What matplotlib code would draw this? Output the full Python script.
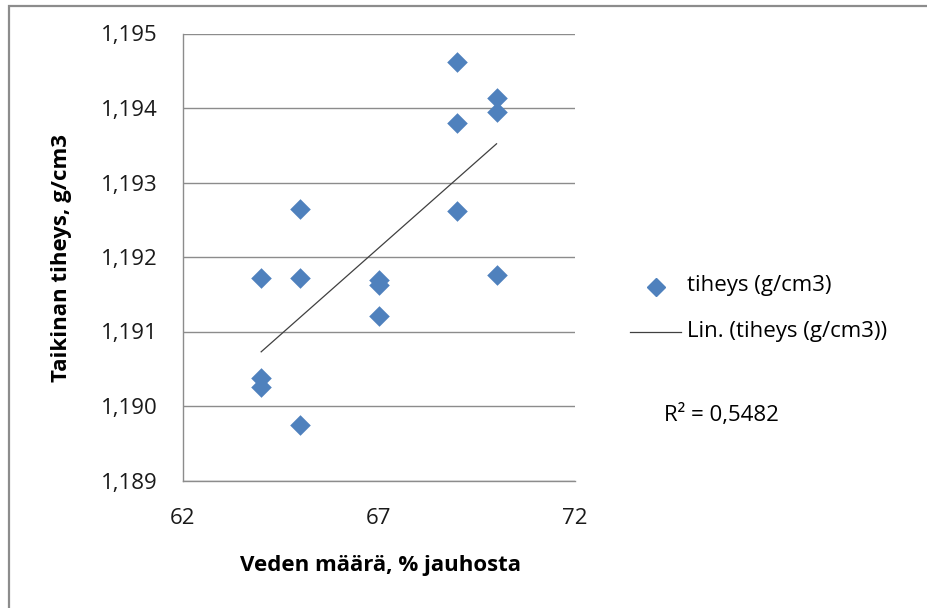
import numpy as np
import matplotlib
matplotlib.use("Agg")
import matplotlib.pyplot as plt
from matplotlib.lines import Line2D
from matplotlib.patches import Rectangle
from matplotlib.ticker import FuncFormatter

plt.rcParams['font.family'] = ['Open Sans', 'DejaVu Sans']

# water content (% of flour) and dough density (g/cm3)
water = [64, 64, 64, 65, 65, 65, 67, 67, 67, 69, 69, 69, 70, 70, 70]
density = [1.19172, 1.19037, 1.19026,
           1.19265, 1.19172, 1.18974,
           1.19169, 1.19162, 1.19121,
           1.19462, 1.19380, 1.19262,
           1.19413, 1.19394, 1.19176]
x_ticks = [62, 67, 72]
y_ticks = [1.189, 1.190, 1.191, 1.192, 1.193, 1.194, 1.195]
r2_label = "R² = 0,5482"

fig = plt.figure(figsize=(9.27, 6.08), dpi=100)
ax = fig.add_axes([182.7 / 927, 1 - 480.5 / 608, (575 - 182.7) / 927, (480.5 - 33.5) / 608])

blue = '#4F81BD'
grid = '#8C8C8C'
fs = 16

ax.scatter(water, density, marker='D', s=110, color=blue, linewidths=0, zorder=3)

# linear trend line over the data range
x = np.array(water, dtype=float)
y = np.array(density)
slope, icpt = np.polyfit(x, y, 1)
xl = np.array([x.min(), x.max()])
ax.plot(xl, slope * xl + icpt, color='#404040', lw=0.9, zorder=2)

ax.set_xlim(62, 72)
ax.set_ylim(1.189, 1.195)
ax.set_xticks(x_ticks)
ax.set_yticks(y_ticks)
ax.yaxis.set_major_formatter(FuncFormatter(lambda v, p: f"{v:.3f}".replace('.', ',')))
ax.tick_params(length=0, labelsize=fs, colors='#1a1a1a', pad=18)
ax.tick_params(axis='x', pad=20)
ax.grid(axis='y', color=grid, lw=1.0)
ax.set_axisbelow(True)
for side in ['top', 'right']:
    ax.spines[side].set_visible(False)
for side in ['left', 'bottom']:
    ax.spines[side].set_color(grid)
    ax.spines[side].set_linewidth(1.0)

fig.text(380 / 927, 1 - 566 / 608, "Veden määrä, % jauhosta", ha='center', va='center',
         fontsize=fs, fontweight='bold')
fig.text(62 / 927, 1 - 258 / 608, "Taikinan tiheys, g/cm3", ha='center', va='center',
         rotation=90, fontsize=fs, fontweight='bold')

# legend entries
fig.add_artist(Line2D([656 / 927], [1 - 287 / 608], marker='D', markersize=9, color=blue,
                      linestyle='none', transform=fig.transFigure))
fig.text(687 / 927, 1 - 286 / 608, "tiheys (g/cm3)", va='center', fontsize=fs)
fig.add_artist(Line2D([630 / 927, 681 / 927], [1 - 332 / 608] * 2, color='#404040', lw=0.9,
                      transform=fig.transFigure))
fig.text(687 / 927, 1 - 331 / 608, "Lin. (tiheys (g/cm3))", va='center', fontsize=fs)
fig.text(664 / 927, 1 - 415 / 608, r2_label, va='center', fontsize=fs)

# chart frame
fig.add_artist(Rectangle((8.5 / 927, -0.05), 1.1, 1 - 5.5 / 608 + 0.05, fill=False,
                         edgecolor='#8C8C8C', lw=1.6, transform=fig.transFigure))

fig.savefig('out.png', dpi=100)
